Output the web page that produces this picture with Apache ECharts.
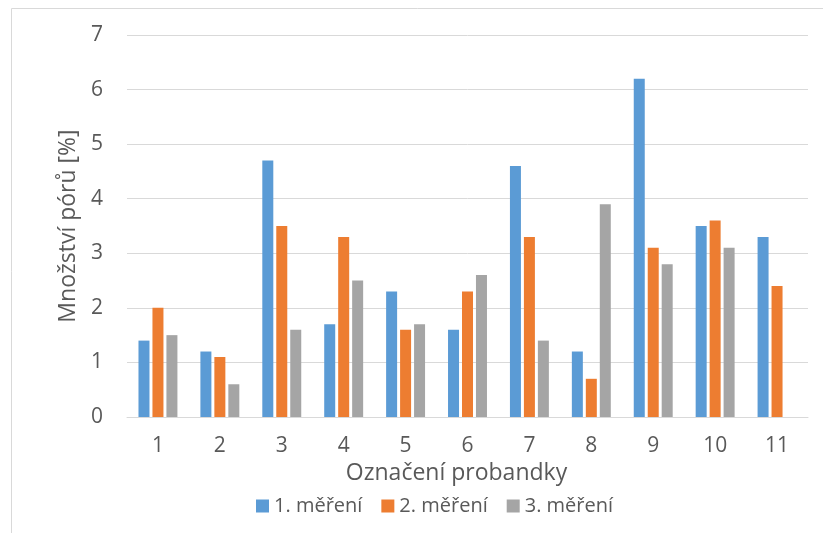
<!DOCTYPE html>
<html>
<head>
<meta charset="utf-8">
<script src="https://cdn.jsdelivr.net/npm/echarts@6/dist/echarts.min.js"></script>
<style>
  html, body { margin: 0; padding: 0; background: #fff; }
  #main { width: 823px; height: 533px; }
</style>
</head>
<body>
<div id="main"></div>
<script>
var categories = ['1', '2', '3', '4', '5', '6', '7', '8', '9', '10', '11'];
var mereni1 = [1.4, 1.2, 4.7, 1.7, 2.3, 1.6, 4.6, 1.2, 6.2, 3.5, 3.3];
var mereni2 = [2.0, 1.1, 3.5, 3.3, 1.6, 2.3, 3.3, 0.7, 3.1, 3.6, 2.4];
var mereni3 = [1.5, 0.6, 1.6, 2.5, 1.7, 2.6, 1.4, 3.9, 2.8, 3.1, null];
var seriesNames = ['1. měření', '2. měření', '3. měření'];
var colors = ['#5B9BD5', '#ED7D31', '#A5A5A5'];

var font = 'Open Sans';
var textColor = '#595959';

var myChart = echarts.init(document.getElementById('main'));

function barSeries(name, data, color) {
    return {
        name: name,
        type: 'bar',
        data: data,
        barWidth: 11,
        barGap: '27%',
        itemStyle: { color: color },
        emphasis: { disabled: true }
    };
}

var option = {
    animation: false,
    textStyle: { fontFamily: font },
    graphic: [
        {
            type: 'rect',
            shape: { x: 11.5, y: 8.5, width: 900, height: 600 },
            style: { fill: 'none', stroke: '#D9D9D9', lineWidth: 1 },
            silent: true
        }
    ],
    grid: {
        left: 127,
        right: 15,
        top: 35,
        bottom: 116
    },
    legend: {
        data: seriesNames,
        left: 251,
        top: 491,
        itemWidth: 13,
        itemHeight: 13,
        itemGap: 19,
        icon: 'rect',
        textStyle: { fontFamily: font, fontSize: 20, color: textColor }
    },
    xAxis: {
        type: 'category',
        data: categories,
        name: 'Označení probandky',
        nameLocation: 'middle',
        nameGap: 45,
        nameTextStyle: { fontFamily: font, fontSize: 23, color: textColor, padding: [0, 22, 0, 0] },
        axisLine: { lineStyle: { color: '#D9D9D9', width: 1 } },
        axisTick: { show: false },
        axisLabel: { fontFamily: font, fontSize: 21, color: textColor, margin: 19 }
    },
    yAxis: {
        type: 'value',
        min: 0,
        max: 7,
        interval: 1,
        name: 'Množství pórů [%]',
        nameLocation: 'middle',
        nameGap: 44,
        nameTextStyle: { fontFamily: font, fontSize: 23, color: textColor },
        axisLine: { show: false },
        axisTick: { show: false },
        splitLine: { lineStyle: { color: '#D9D9D9', width: 1 } },
        axisLabel: { fontFamily: font, fontSize: 21, color: textColor, margin: 24 }
    },
    series: [
        barSeries(seriesNames[0], mereni1, colors[0]),
        barSeries(seriesNames[1], mereni2, colors[1]),
        barSeries(seriesNames[2], mereni3, colors[2])
    ]
};

myChart.setOption(option);
</script>
</body>
</html>
